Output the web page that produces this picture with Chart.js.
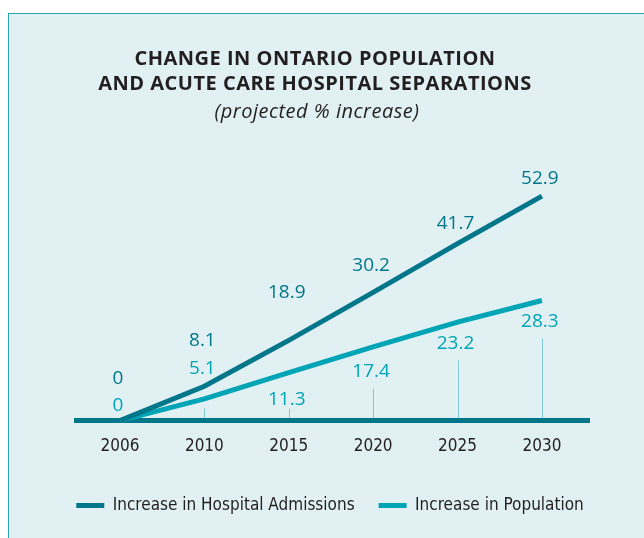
<!DOCTYPE html>
<html>
<head>
<meta charset="utf-8">
<script src="https://cdn.jsdelivr.net/npm/chart.js@4.4.1/dist/chart.umd.min.js"></script>
<style>
  html, body { margin: 0; padding: 0; background: #fff; overflow: hidden; }
  #panel { position: absolute; left: 8px; top: 13px; width: 700px; height: 600px; background: #e1f0f3; border: 1.5px solid #2ba4b1; }
  #chart { position: absolute; left: 0; top: 0; }
</style>
</head>
<body>
<div id="panel"></div>
<canvas id="chart" width="644" height="538"></canvas>
<script>
const years = ['2006', '2010', '2015', '2020', '2025', '2030'];
const hospitalAdmissions = [0, 8.1, 18.9, 30.2, 41.7, 52.9];
const population = [0, 5.1, 11.3, 17.4, 23.2, 28.3];
const titleLines = ['CHANGE IN ONTARIO POPULATION', 'AND ACUTE CARE HOSPITAL SEPARATIONS'];
const subtitle = '(projected % increase)';

// where each value label sits relative to its point (px, negative = above)
const hospitalLabelShift = [-42, -46, -48, -27, -20, -18];
const populationLabelShift = [-15, -30, 27, 25, 21, 21];

const DARK = '#00768a';
const LIGHT = '#00a5b5';
const INK = '#231f20';
const NARROW = '"DejaVu Sans Condensed", "Liberation Sans Narrow", sans-serif';

const decor = {
    id: 'decor',
    beforeDatasetsDraw(chart) {
        const { ctx, chartArea, scales: { x, y } } = chart;
        const base = y.getPixelForValue(0);
        ctx.save();
        // thin leader lines from the population labels down to the axis
        ctx.strokeStyle = '#7fcad2';
        ctx.lineWidth = 1;
        population.forEach((v, i) => {
            if (i === 0) return;
            const px = Math.round(x.getPixelForValue(i)) + 0.5;
            const shift = populationLabelShift[i];
            const labelY = y.getPixelForValue(v) + shift;
            const top = shift > 0 ? Math.min(labelY + 17, base - 12) : base - 12;
            ctx.beginPath();
            ctx.moveTo(px, top);
            ctx.lineTo(px, base);
            ctx.stroke();
        });
        // heavy baseline
        ctx.strokeStyle = DARK;
        ctx.lineWidth = 5;
        ctx.beginPath();
        ctx.moveTo(chartArea.left, base);
        ctx.lineTo(chartArea.right, base);
        ctx.stroke();
        ctx.restore();
    },
    afterDatasetsDraw(chart) {
        const { ctx, scales: { x, y } } = chart;
        ctx.save();
        ctx.font = '19px "Open Sans", sans-serif';
        ctx.textAlign = 'center';
        ctx.textBaseline = 'middle';
        hospitalAdmissions.forEach((v, i) => {
            ctx.fillStyle = DARK;
            ctx.fillText(String(v), x.getPixelForValue(i) - 2, y.getPixelForValue(v) + hospitalLabelShift[i]);
        });
        population.forEach((v, i) => {
            ctx.fillStyle = LIGHT;
            ctx.fillText(String(v), x.getPixelForValue(i) - 2, y.getPixelForValue(v) + populationLabelShift[i]);
        });
        ctx.restore();
    },
    afterDraw(chart) {
        const ctx = chart.ctx;
        const cx = chart.width / 2 - 7;
        ctx.save();
        ctx.textAlign = 'center';
        ctx.textBaseline = 'alphabetic';
        ctx.fillStyle = INK;
        ctx.font = 'bold 20px "Open Sans", sans-serif';
        ctx.letterSpacing = '0.5px';
        ctx.fillText(titleLines[0], cx, 65);
        ctx.fillText(titleLines[1], cx, 90);
        ctx.font = 'italic 20px "Open Sans", sans-serif';
        ctx.letterSpacing = '0.5px';
        ctx.fillText(subtitle, cx + 2, 118);
        ctx.restore();
    }
};

new Chart(document.getElementById('chart'), {
    type: 'line',
    data: {
        datasets: [
            {
                label: 'Increase in Hospital Admissions',
                data: hospitalAdmissions.map((v, i) => ({ x: i, y: v })),
                borderColor: DARK,
                backgroundColor: DARK,
                borderWidth: 5,
                borderJoinStyle: 'miter',
                pointRadius: 0,
                clip: false,
                order: 1
            },
            {
                label: 'Increase in Population',
                data: population.map((v, i) => ({ x: i, y: v })),
                borderColor: LIGHT,
                backgroundColor: LIGHT,
                borderWidth: 5,
                borderJoinStyle: 'miter',
                pointRadius: 0,
                clip: false,
                order: 2
            }
        ]
    },
    options: {
        responsive: false,
        animation: false,
        layout: { padding: { top: 166, left: 20, right: 4, bottom: 14 } },
        plugins: {
            legend: {
                position: 'bottom',
                labels: {
                    boxWidth: 28,
                    boxHeight: 5,
                    padding: 24,
                    color: INK,
                    font: { family: NARROW, size: 17 },
                    generateLabels: chart => chart.data.datasets.map((d, i) => ({
                        text: d.label,
                        fillStyle: d.borderColor,
                        strokeStyle: d.borderColor,
                        lineWidth: 0,
                        fontColor: INK,
                        hidden: false,
                        datasetIndex: i
                    }))
                }
            },
            tooltip: { enabled: false }
        },
        scales: {
            x: {
                type: 'linear',
                min: -0.545,
                max: 5.57,
                afterBuildTicks: scale => { scale.ticks = years.map((_, i) => ({ value: i })); },
                grid: { display: false, drawTicks: false },
                border: { display: false },
                ticks: {
                    padding: 16,
                    color: INK,
                    font: { family: NARROW, size: 17 },
                    callback: v => years[v]
                }
            },
            y: {
                min: 0,
                max: 60,
                position: 'left',
                grid: { display: false, drawTicks: false },
                border: { display: false },
                ticks: { display: false },
                afterFit: scale => { scale.width = 54; }
            },
            spacer: {
                position: 'right',
                grid: { display: false, drawTicks: false },
                border: { display: false },
                ticks: { display: false },
                afterFit: scale => { scale.width = 50; }
            }
        }
    },
    plugins: [decor]
});
</script>
</body>
</html>
